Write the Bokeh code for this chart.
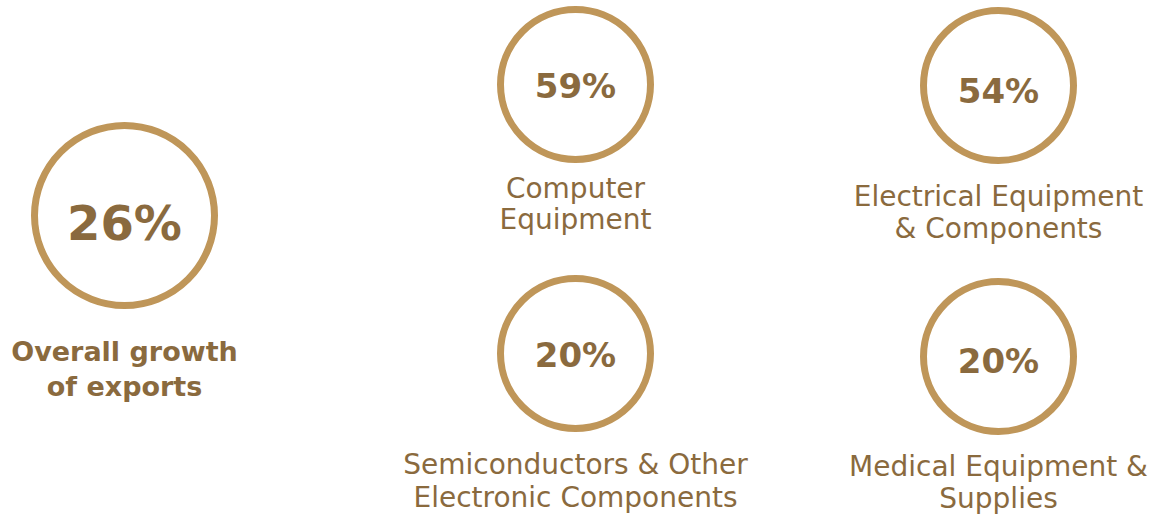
from bokeh.plotting import figure
from bokeh.models import Range1d
from bokeh.core.properties import value
from bokeh.embed import file_html
from bokeh.resources import INLINE

# Data
values = ["26%", "59%", "54%", "20%", "20%"]
labels = [
    ["Overall growth", "of exports"],
    ["Computer", "Equipment"],
    ["Electrical Equipment", "& Components"],
    ["Semiconductors & Other", "Electronic Components"],
    ["Medical Equipment &", "Supplies"],
]

# Layout (page pixel coordinates)
cx = [124, 575, 998, 575, 998]
cy = [215, 84, 85, 353, 356]
radius = [90, 75, 75, 75, 75]
val_size = ["48px", "34px", "34px", "34px", "34px"]
val_dy = [7, 1, 5, 1, 4]
label_y = [[351, 386], [188, 219], [196, 228], [464, 497], [466, 498]]
label_bold = [True, False, False, False, False]

RING = "#BF9659"
TEXT = "#8A6A3E"
FONT = "DejaVu Sans"

p = figure(width=1164, height=515, output_backend="svg", toolbar_location=None,
           x_range=Range1d(0, 1164), y_range=Range1d(515, 0),
           min_border=0)
p.axis.visible = False
p.grid.visible = False
p.outline_line_color = None
p.background_fill_color = "white"
p.border_fill_color = "white"

p.circle(x=cx, y=cy, radius=radius, fill_color=None, line_color=RING, line_width=7)

for i, v in enumerate(values):
    p.text(x=[cx[i]], y=[cy[i] + val_dy[i]], text=[v], text_align="center",
           text_baseline="middle", text_font=value(FONT), text_font_style="bold",
           text_font_size=val_size[i], text_color=TEXT)
    for line, ly in zip(labels[i], label_y[i]):
        p.text(x=[cx[i]], y=[ly], text=[line], text_align="center",
               text_baseline="middle", text_font=value(FONT),
               text_font_style="bold" if label_bold[i] else "normal",
               text_font_size="27px" if label_bold[i] else "28px",
               text_color=TEXT)

open("out.html", "w").write(file_html(p, INLINE))
